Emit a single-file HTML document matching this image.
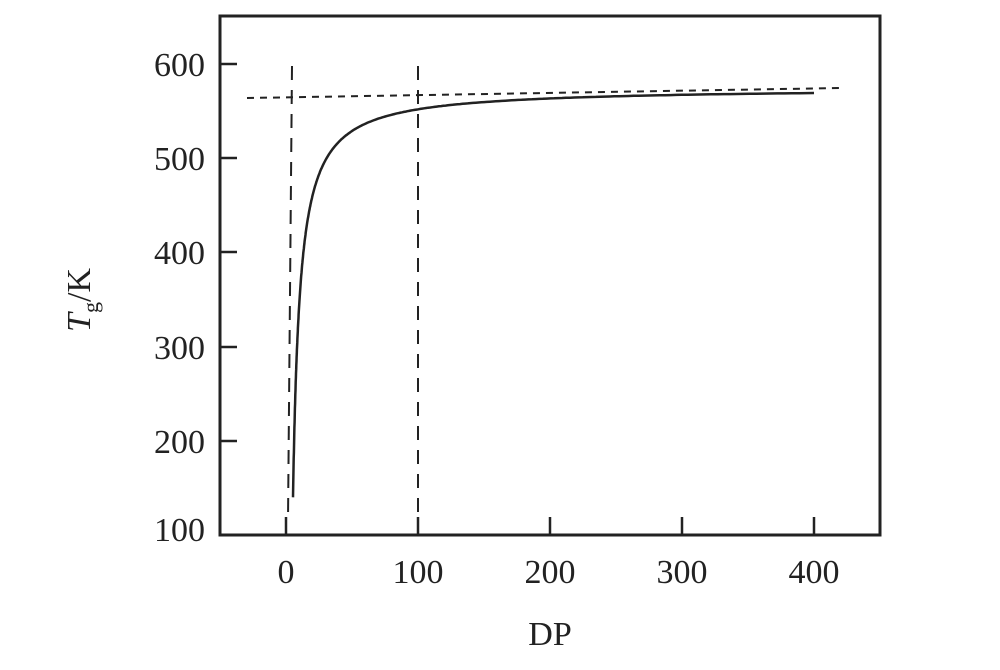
<!DOCTYPE html>
<html><head><meta charset="utf-8"><style>body{margin:0;background:#fff}svg{display:block}</style></head><body>
<svg width="1000" height="670" viewBox="0 0 1000 670" xmlns="http://www.w3.org/2000/svg">
<rect x="220" y="16" width="660" height="519" fill="none" stroke="#222" stroke-width="3"/>
<g stroke="#222" stroke-width="2.5">
<line x1="220" y1="64" x2="237" y2="64"/><line x1="220" y1="158" x2="237" y2="158"/><line x1="220" y1="252" x2="237" y2="252"/><line x1="220" y1="347" x2="237" y2="347"/><line x1="220" y1="441" x2="237" y2="441"/>
<line x1="286" y1="535" x2="286" y2="517"/><line x1="418" y1="535" x2="418" y2="517"/><line x1="550" y1="535" x2="550" y2="517"/><line x1="682" y1="535" x2="682" y2="517"/><line x1="814" y1="535" x2="814" y2="517"/>
</g>
<g stroke="#222" stroke-width="2" fill="none">
<line x1="292" y1="66" x2="288" y2="520" stroke-dasharray="14,10"/>
<line x1="418" y1="66" x2="418" y2="520" stroke-dasharray="14,10"/>
<line x1="247" y1="98" x2="842" y2="88" stroke-dasharray="7,6"/>
<path id="c" stroke-width="2.5"/>
</g>
<script>
var d="";for(var i=0;i<=300;i++){var p=5.3*Math.pow(400/5.3,i/300);var T=575-2300/p;var x=286+1.32*p,y=64+(600-T)*0.944;d+=(i?"L":"M")+x.toFixed(1)+","+y.toFixed(1);}document.getElementById("c").setAttribute("d",d);
</script>
<g font-family="Liberation Serif, serif" font-size="34" fill="#222" text-anchor="end">
<text x="205" y="76">600</text><text x="205" y="170">500</text><text x="205" y="264">400</text><text x="205" y="359">300</text><text x="205" y="453">200</text><text x="205" y="541">100</text>
</g>
<g font-family="Liberation Serif, serif" font-size="34" fill="#222" text-anchor="middle">
<text x="286" y="583">0</text><text x="418" y="583">100</text><text x="550" y="583">200</text><text x="682" y="583">300</text><text x="814" y="583">400</text>
<text x="550" y="645">DP</text>
</g>
<text transform="translate(90,300) rotate(-90)" font-family="Liberation Serif, serif" font-size="34" fill="#222" text-anchor="middle"><tspan font-style="italic">T</tspan><tspan font-size="22" dy="8">g</tspan><tspan dy="-8">/K</tspan></text>
</svg>
</body></html>
